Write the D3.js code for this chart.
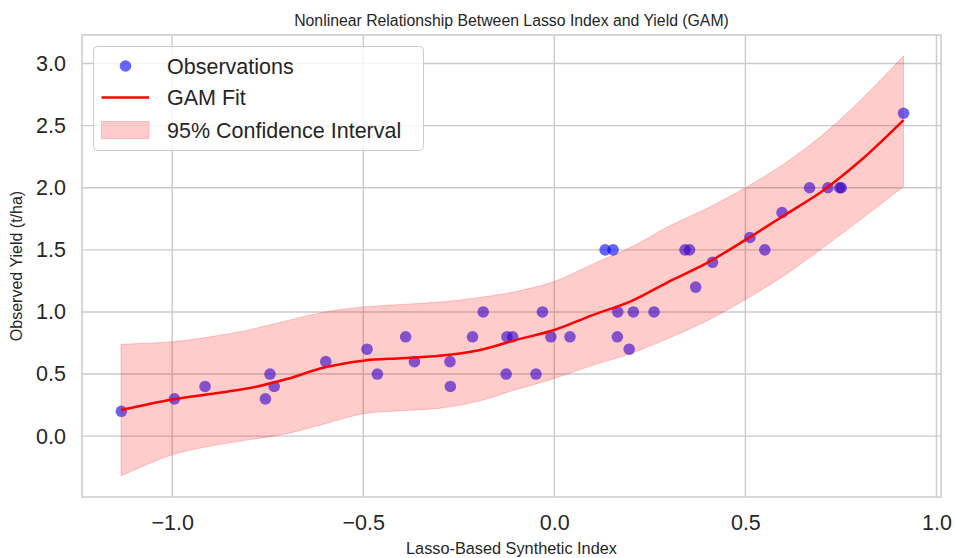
<!DOCTYPE html>
<html>
<head>
<meta charset="utf-8">
<script src="https://cdn.jsdelivr.net/npm/d3@7"></script>
<style>
  html, body { margin: 0; padding: 0; background: #fff; }
  svg { display: block; font-family: "Liberation Sans", Arial, sans-serif; }
</style>
</head>
<body>
<svg id="chart" width="955" height="558"></svg>
<script>
// ---- Data ----
const obsX = [-1.133, -0.994, -0.914, -0.756, -0.744, -0.733, -0.598, -0.49, -0.463, -0.389,
              -0.366, -0.273, -0.272, -0.214, -0.186, -0.126, -0.124, -0.109, -0.048, -0.031,
              -0.009, 0.041, 0.133, 0.154, 0.165, 0.166, 0.196, 0.207, 0.261, 0.342,
              0.354, 0.370, 0.414, 0.512, 0.551, 0.596, 0.668, 0.716, 0.747, 0.751, 0.914];
const obsY = [0.2, 0.3, 0.4, 0.3, 0.5, 0.4, 0.6, 0.7, 0.5, 0.8,
              0.6, 0.6, 0.4, 0.8, 1.0, 0.5, 0.8, 0.8, 0.5, 1.0,
              0.8, 0.8, 1.5, 1.5, 0.8, 1.0, 0.7, 1.0, 1.0, 1.5,
              1.5, 1.2, 1.4, 1.6, 1.5, 1.8, 2.0, 2.0, 2.0, 2.0, 2.6];

const fitX = [-1.134, -1.0, -0.9, -0.8, -0.7, -0.6, -0.5, -0.4, -0.3, -0.2, -0.1,
              0.0, 0.1, 0.2, 0.3, 0.4, 0.5, 0.6, 0.7, 0.8, 0.914];
const fitY = [0.21, 0.295, 0.34, 0.385, 0.46, 0.555, 0.608, 0.628, 0.648, 0.69, 0.775,
              0.855, 0.975, 1.085, 1.245, 1.395, 1.58, 1.775, 1.97, 2.215, 2.545];
const ciUpper = [0.74, 0.76, 0.80, 0.855, 0.93, 1.0, 1.04, 1.06, 1.08, 1.115, 1.165,
                 1.245, 1.385, 1.52, 1.69, 1.835, 2.0, 2.19, 2.42, 2.7, 3.06];
const ciLower = [-0.32, -0.15, -0.08, -0.03, 0.02, 0.1, 0.18, 0.205, 0.225, 0.28, 0.375,
                 0.465, 0.57, 0.665, 0.79, 0.93, 1.1, 1.29, 1.51, 1.74, 2.01];

const xTicks = [-1.0, -0.5, 0.0, 0.5, 1.0];
const yTicks = [0.0, 0.5, 1.0, 1.5, 2.0, 2.5, 3.0];
const xDomain = [-1.236, 1.012];
const yDomain = [-0.49, 3.23];

const titleText = "Nonlinear Relationship Between Lasso Index and Yield (GAM)";
const xLabelText = "Lasso-Based Synthetic Index";
const yLabelText = "Observed Yield (t/ha)";
const legendLabels = ["Observations", "GAM Fit", "95% Confidence Interval"];

// ---- Layout ----
const svg = d3.select("#chart");
const L = 82, R = 941, T = 35, B = 497;
const x = d3.scaleLinear().domain(xDomain).range([L, R]);
const y = d3.scaleLinear().domain(yDomain).range([B, T]);

const fmt = d => d3.format(".1f")(d).replace("-", "\u2212");

// grid
const grid = svg.append("g");
grid.selectAll(".gx").data(xTicks).enter().append("line")
  .attr("x1", d => x(d)).attr("x2", d => x(d)).attr("y1", T).attr("y2", B)
  .attr("stroke", "#cbcbcb").attr("stroke-width", 1.4);
grid.selectAll(".gy").data(yTicks).enter().append("line")
  .attr("x1", L).attr("x2", R).attr("y1", d => y(d)).attr("y2", d => y(d))
  .attr("stroke", "#cbcbcb").attr("stroke-width", 1.4);

// points
const pts = obsX.map((v, i) => ({ x: v, y: obsY[i] }));
svg.append("g").selectAll("circle").data(pts).enter().append("circle")
  .attr("cx", d => x(d.x)).attr("cy", d => y(d.y)).attr("r", 5.8)
  .attr("fill", "#0000ff").attr("fill-opacity", 0.6);

// band
const band = fitX.map((v, i) => ({ x: v, lo: ciLower[i], hi: ciUpper[i], f: fitY[i] }));
svg.append("path").datum(band)
  .attr("d", d3.area().x(d => x(d.x)).y0(d => y(d.lo)).y1(d => y(d.hi)).curve(d3.curveCatmullRom.alpha(0.5)))
  .attr("fill", "#ff0000").attr("fill-opacity", 0.2)
  .attr("stroke", "#ff0000").attr("stroke-opacity", 0.2).attr("stroke-width", 1);

// fit line
svg.append("path").datum(band)
  .attr("d", d3.line().x(d => x(d.x)).y(d => y(d.f)).curve(d3.curveCatmullRom.alpha(0.5)))
  .attr("fill", "none").attr("stroke", "#ff0000").attr("stroke-width", 2.5);

// frame
svg.append("rect").attr("x", L).attr("y", T).attr("width", R - L).attr("height", B - T)
  .attr("fill", "none").attr("stroke", "#cccccc").attr("stroke-width", 1.5);

// axes (tick labels only, seaborn whitegrid style)
const xAxis = d3.axisBottom(x).tickValues(xTicks).tickFormat(fmt).tickSize(0).tickPadding(18);
const gx = svg.append("g").attr("transform", `translate(0,${B})`).call(xAxis);
gx.select(".domain").remove();
gx.selectAll("text").attr("font-size", 21.5).attr("fill", "#262626")
  .attr("font-family", "Liberation Sans, Arial, sans-serif");

const yAxis = d3.axisLeft(y).tickValues(yTicks).tickFormat(fmt).tickSize(0).tickPadding(16);
const gy = svg.append("g").attr("transform", `translate(${L},0)`).call(yAxis);
gy.select(".domain").remove();
gy.selectAll("text").attr("font-size", 21.5).attr("fill", "#262626")
  .attr("font-family", "Liberation Sans, Arial, sans-serif");

// title and labels
svg.append("text").attr("x", (L + R) / 2).attr("y", 26).attr("text-anchor", "middle")
  .attr("font-size", 15.8).attr("fill", "#262626").text(titleText);
svg.append("text").attr("x", (L + R) / 2).attr("y", 554).attr("text-anchor", "middle")
  .attr("font-size", 16.3).attr("fill", "#262626").text(xLabelText);
svg.append("text").attr("transform", `translate(22,${(T + B) / 2}) rotate(-90)`)
  .attr("text-anchor", "middle").attr("font-size", 16).attr("fill", "#262626").text(yLabelText);

// legend
const lg = svg.append("g");
lg.append("rect").attr("x", 93.5).attr("y", 46.5).attr("width", 330).attr("height", 104)
  .attr("rx", 4).attr("fill", "#ffffff").attr("fill-opacity", 0.8)
  .attr("stroke", "#cccccc").attr("stroke-width", 1);
const rowY = [66, 97.5, 130];
lg.append("circle").attr("cx", 125.5).attr("cy", rowY[0]).attr("r", 5.8)
  .attr("fill", "#0000ff").attr("fill-opacity", 0.6);
lg.append("line").attr("x1", 101.5).attr("x2", 149).attr("y1", rowY[1]).attr("y2", rowY[1])
  .attr("stroke", "#ff0000").attr("stroke-width", 2.5);
lg.append("rect").attr("x", 101.5).attr("y", rowY[2] - 8.5).attr("width", 47.5).attr("height", 17)
  .attr("fill", "#ff0000").attr("fill-opacity", 0.2)
  .attr("stroke", "#ff0000").attr("stroke-opacity", 0.2);
lg.selectAll(".lt").data(legendLabels).enter().append("text")
  .attr("x", 167).attr("y", (d, i) => rowY[i]).attr("dy", "0.35em")
  .attr("font-size", 21.5).attr("fill", "#262626").text(d => d);
</script>
</body>
</html>
